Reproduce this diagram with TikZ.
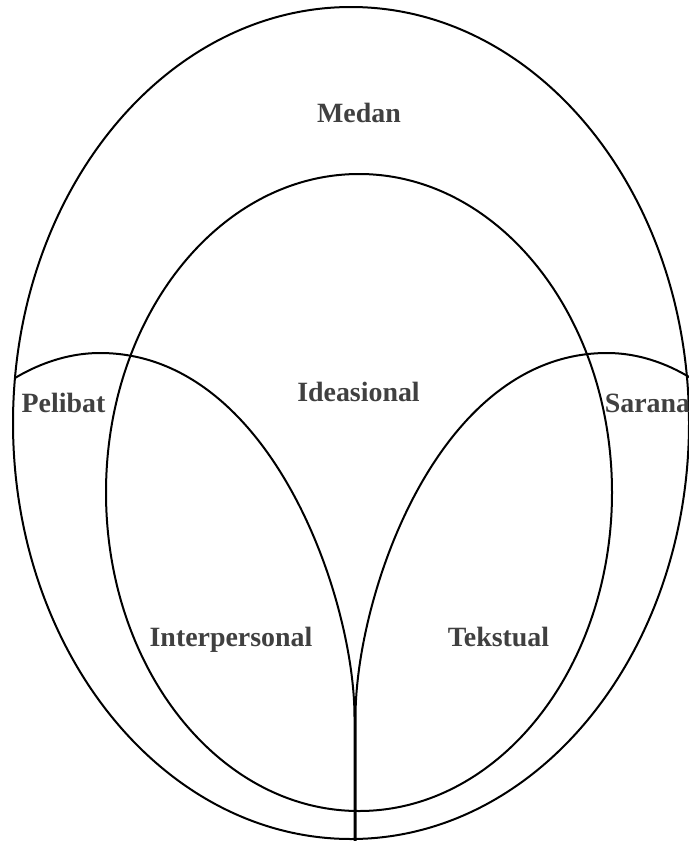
\documentclass[tikz,border=0pt]{standalone}
\usepackage{fontspec}
\setmainfont{Liberation Serif}
\definecolor{labelgray}{RGB}{64,64,64}
\begin{document}
\begin{tikzpicture}[x=1bp,y=-1bp,
  ring/.style={draw=black,line width=2bp},
  lbl/.style={font=\fontsize{28}{30}\selectfont\bfseries,text=labelgray,anchor=base,inner sep=0pt}]
\useasboundingbox (0,0) rectangle (689,841);
\clip (0,0) rectangle (689,841);
% outer ellipse (Medan)
\draw[ring] (351,423) ellipse [x radius=338, y radius=416];
% inner ellipse (Ideasional)
\draw[ring] (359,492.5) ellipse [x radius=253, y radius=318.5];
% left shape (Pelibat / Interpersonal)
\draw[ring] (15,378) .. controls (35,366) and (65,353) .. (100,353)
  .. controls (270,353) and (354.5,597) .. (354.5,717) -- (354.5,845);
% right shape (Sarana / Tekstual)
\draw[ring] (355.5,845) -- (355.5,717) .. controls (355.5,597) and (437,353) .. (607,353)
  .. controls (642,353) and (672,366) .. (694,380);
% labels
\node[lbl] (medan) at (359,122.5) {Medan};
\node[lbl] (ideasional) at (358.5,401.5) {Ideasional};
\node[lbl] (pelibat) at (63.5,412.5) {Pelibat};
\node[lbl] (sarana) at (647.5,412.5) {Sarana};
\node[lbl] (interpersonal) at (231,646.5) {Interpersonal};
\node[lbl] (tekstual) at (498.5,646.5) {Tekstual};
\end{tikzpicture}
\end{document}
